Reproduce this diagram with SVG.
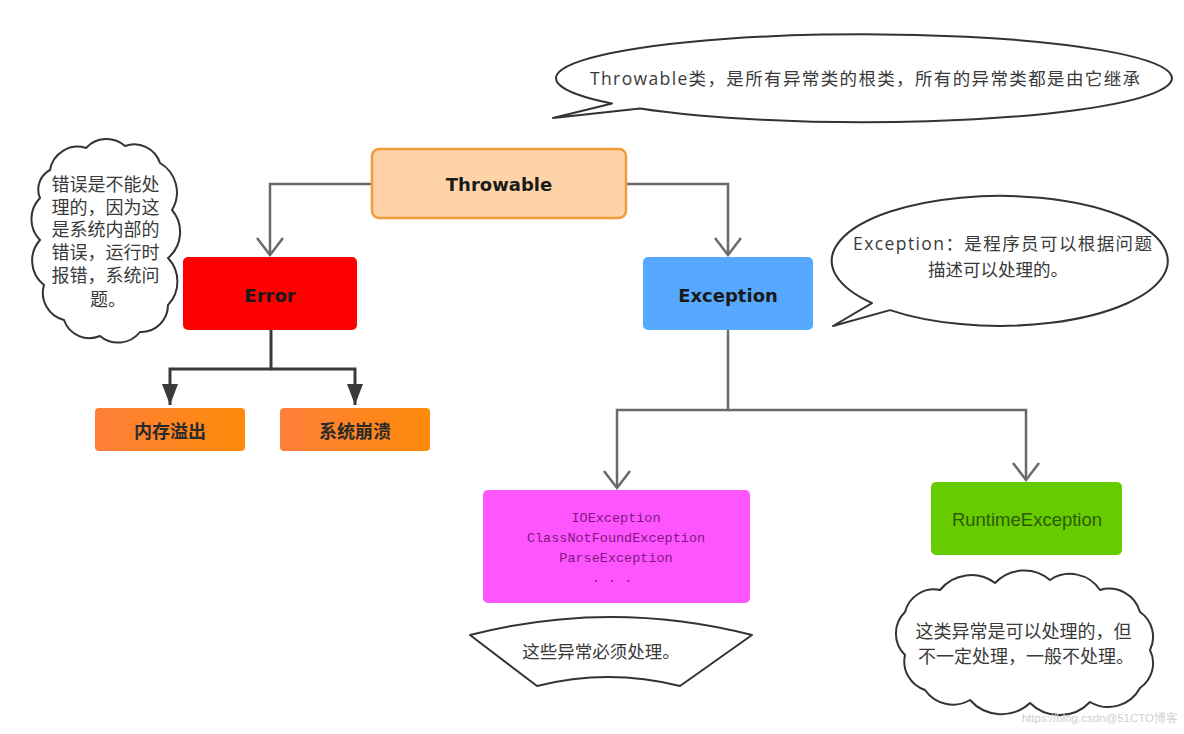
<svg xmlns="http://www.w3.org/2000/svg" width="1184" height="734" viewBox="0 0 1184 734">
<style>
.note{fill:#fff;stroke:#333;stroke-width:2;stroke-linejoin:round}
.nt{font-family:"Open Sans","Noto Sans CJK SC",sans-serif;font-size:17.5px;fill:#3a3a3a;dominant-baseline:central}
.ct{font-family:"Liberation Sans","Noto Sans CJK SC",sans-serif;font-size:18px;fill:#3a3a3a}
.bt{font-family:"DejaVu Sans",sans-serif;font-weight:bold;font-size:18px;fill:#1a1a1a;text-anchor:middle;dominant-baseline:central}
.cb{font-family:"Noto Sans CJK SC",sans-serif;font-weight:bold;font-size:18px;fill:#2a2a2a;text-anchor:middle;dominant-baseline:central}
.mono{font-family:"Liberation Mono",monospace;font-size:13.5px;fill:#7e1580;text-anchor:middle;dominant-baseline:central}
.gl{fill:none;stroke:#6a6a6a;stroke-width:2.5}
.dl{fill:none;stroke:#3a3a3a;stroke-width:3}
</style>
<defs>
<marker id="open" markerUnits="userSpaceOnUse" viewBox="-20 -16 24 32" refX="0" refY="0" markerWidth="24" markerHeight="32" orient="auto" overflow="visible">
<path d="M -17 -13 L 0 0 L -17 13" fill="none" stroke="#6a6a6a" stroke-width="2.5"/>
</marker>
<marker id="solid" markerUnits="userSpaceOnUse" viewBox="-22 -10 24 20" refX="0" refY="0" markerWidth="24" markerHeight="20" orient="auto" overflow="visible">
<path d="M -21 -8 L 0 0 L -21 8 Z" fill="#3a3a3a"/>
</marker>
<linearGradient id="og" x1="0" y1="0" x2="1" y2="0">
<stop offset="0" stop-color="#FF7F3A"/>
<stop offset="1" stop-color="#FF8A0A"/>
</linearGradient>
</defs>

<g id="connectors">
<path class="gl" d="M 372 184 H 270 V 255" marker-end="url(#open)"/>
<path class="gl" d="M 626 184 H 728 V 255" marker-end="url(#open)"/>
<path class="dl" d="M 271 330 V 369 H 170 V 405" marker-end="url(#solid)"/>
<path class="dl" d="M 271 369 H 355 V 405" marker-end="url(#solid)"/>
<path class="gl" d="M 728 330 V 410 H 617 V 488" marker-end="url(#open)"/>
<path class="gl" d="M 728 410 H 1026 V 480" marker-end="url(#open)"/>
</g>

<g id="throwable">
<rect x="372" y="149" width="254" height="69" rx="7" fill="#FFD3A8" stroke="#F39A3A" stroke-width="2.5"/>
<text class="bt" x="499" y="184">Throwable</text>
</g>

<g id="error">
<rect x="183" y="257" width="174" height="73" rx="5" fill="#FF0000"/>
<text class="bt" x="270" y="295">Error</text>
</g>

<g id="exception">
<rect x="643" y="257" width="170" height="73" rx="5" fill="#56A9FF"/>
<text class="bt" x="728" y="295">Exception</text>
</g>

<g id="oom">
<rect x="95" y="408" width="150" height="43" rx="4" fill="url(#og)"/>
<text class="cb" x="170" y="430">内存溢出</text>
</g>

<g id="crash">
<rect x="280" y="408" width="150" height="43" rx="4" fill="url(#og)"/>
<text class="cb" x="355" y="430">系统崩溃</text>
</g>

<g id="checked">
<rect x="483" y="490" width="267" height="113" rx="5" fill="#FF55FF"/>
<text class="mono" x="616" y="518">IOException</text>
<text class="mono" x="616" y="538">ClassNotFoundException</text>
<text class="mono" x="616" y="558">ParseException</text>
<text class="mono" x="612" y="578">. . .</text>
</g>

<g id="runtime">
<rect x="931" y="482" width="191" height="73" rx="5" fill="#66CC00"/>
<text x="1027" y="519" font-family="Liberation Sans, sans-serif" font-size="18.5" fill="#2e5a06" text-anchor="middle" dominant-baseline="central">RuntimeException</text>
</g>

<g id="note-throwable">
<path class="note" d="M 640 108.4 A 308 44 0 1 0 612 103.5 L 553 118 Z"/>
<text class="nt" x="590" y="78" textLength="550" lengthAdjust="spacing">Throwable类，是所有异常类的根类，所有的异常类都是由它继承</text>
</g>

<g id="note-exception">
<path class="note" d="M 890 310.1 A 168 65 0 1 0 872 303.1 L 833 326 Z"/>
<text class="nt" x="853" y="243" textLength="299" lengthAdjust="spacing">Exception：是程序员可以根据问题</text>
<text class="nt" x="998" y="269" text-anchor="middle">描述可以处理的。</text>
</g>

<g id="note-error">
<path class="note" d="M 50 170 A 28 28 0 0 1 86 148 A 28 28 0 0 1 125 146 A 27 27 0 0 1 160 163 A 34 34 0 0 1 172 210 A 34 34 0 0 1 168 258 A 34 34 0 0 1 168 305 A 27 27 0 0 1 140 332 A 28 28 0 0 1 100 336 A 27 27 0 0 1 64 320 A 28 28 0 0 1 44 285 A 31 31 0 0 1 40 240 A 30 30 0 0 1 40 198 A 22 22 0 0 1 50 170 Z"/>
<text class="ct" text-anchor="middle">
<tspan x="108" y="191">错误是不能处</tspan>
<tspan x="108" y="214">理的，因为这</tspan>
<tspan x="108" y="236">是系统内部的</tspan>
<tspan x="108" y="259">错误，运行时</tspan>
<tspan x="108" y="282">报错，系统问</tspan>
<tspan x="108" y="306">题。</tspan>
</text>
</g>

<g id="note-checked">
<path class="note" d="M 470 635 Q 611 599 752 635 L 680 686 Q 608 668 537 686 Z"/>
<text class="nt" x="601" y="651" text-anchor="middle">这些异常必须处理。</text>
</g>

<g id="note-runtime">
<path class="note" d="M 905 612 A 30 30 0 0 1 940 590 A 40 40 0 0 1 995 583 A 40 40 0 0 1 1050 580 A 36 36 0 0 1 1100 590 A 32 32 0 0 1 1140 612 A 30 30 0 0 1 1150 650 A 30 30 0 0 1 1140 688 A 36 36 0 0 1 1090 702 A 42 42 0 0 1 1030 703 A 42 42 0 0 1 970 700 A 34 34 0 0 1 925 690 A 30 30 0 0 1 905 655 A 30 30 0 0 1 905 612 Z"/>
<text class="ct" text-anchor="middle">
<tspan x="1026" y="638">这类异常是可以处理的，但</tspan>
<tspan x="1026" y="663">不一定处理，一般不处理。</tspan>
</text>
</g>

<text x="1178" y="722" font-family="Liberation Sans, sans-serif" font-size="11.5" fill="#cfcfcf" text-anchor="end">https://blog.csdn@51CTO博客</text>
</svg>
